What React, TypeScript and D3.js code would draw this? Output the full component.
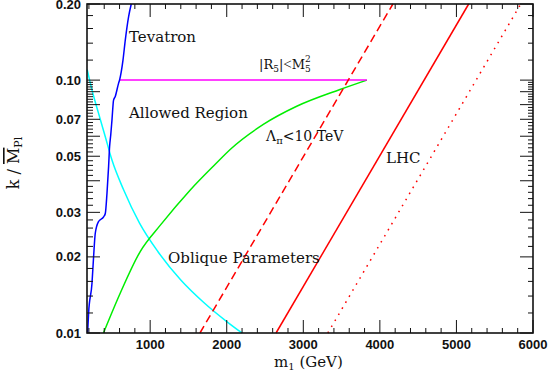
import * as d3 from "d3";

// chart size and frame
const width = 549,
  height = 374;
const margin = { top: 4, right: 16, bottom: 41, left: 87 };

// axis ranges and labelled ticks
const xDomain = [175, 6000];
const yDomain = [0.01, 0.2];
const xMajor = [1000, 2000, 3000, 4000, 5000, 6000];
const yLabels = [0.01, 0.02, 0.03, 0.05, 0.07, 0.1, 0.2];

// curves, [m1 in GeV, k/Mpl]
const tevatron = [
  [183, 0.01], [196, 0.012], [240, 0.0157], [261, 0.02], [283, 0.0248],
  [326, 0.0276], [392, 0.0288], [414, 0.0297], [436, 0.0357], [457, 0.0455],
  [470, 0.0545], [485, 0.0607], [501, 0.0695], [522, 0.0834], [544, 0.0862],
  [587, 0.0971], [600, 0.1], [645, 0.12], [675, 0.144], [718, 0.178], [753, 0.2],
];
const oblique = [
  [178, 0.11], [240, 0.0914], [326, 0.0739], [414, 0.0597], [501, 0.0483],
  [650, 0.037], [861, 0.0272], [1100, 0.021], [1400, 0.0162], [1700, 0.0132],
  [2000, 0.0111], [2200, 0.01],
];
const lambdaPi = [
  [390, 0.01], [610, 0.0144], [870, 0.021], [1133, 0.0267], [1524, 0.0368],
  [1850, 0.0465], [2045, 0.0532], [2478, 0.0668], [2914, 0.0788],
  [3479, 0.0918], [3830, 0.1],
];
const r5Bound = [[600, 0.1], [3830, 0.1]];
const lhcDashed = [[1650, 0.01], [4170, 0.2]];
const lhcSolid = [[2644, 0.01], [5160, 0.2]];
const lhcDotted = [[3320, 0.01], [5840, 0.2]];

const serif = "'DejaVu Serif', serif";
const narrowSerif = "'Liberation Serif', serif";
const sans = "'Liberation Sans', Arial, sans-serif";

export default function App() {
  const x0 = margin.left,
    x1 = width - margin.right,
    y0 = margin.top,
    y1 = height - margin.bottom;

  const x = d3.scaleLinear().domain(xDomain).range([x0, x1]);
  const y = d3.scaleLog().domain(yDomain).range([y1, y0]);

  const line = d3
    .line<number[]>()
    .x((d) => x(d[0]))
    .y((d) => y(d[1]))
    .curve(d3.curveMonotoneX);

  // minor ticks
  const xMinor = d3.range(200, 6001, 200).filter((v) => v >= xDomain[0] && v % 1000 !== 0);
  const yLong = d3.range(1, 11).map((i) => i / 100).concat([0.2]);
  const yMinor = d3
    .range(12, 100, 2)
    .filter((i) => i % 10 !== 0)
    .map((i) => i / 1000)
    .concat([0.12, 0.14, 0.16, 0.18]);

  const fmtY = (v: number) => v.toFixed(2);
  const ink = "#111";

  return (
    <svg
      width={width}
      height={height}
      style={{ position: "absolute", left: 0, top: 0, background: "#fff" }}
    >
      {/* curves */}
      <g fill="none" strokeWidth={1.5}>
        <path d={line(oblique)!} stroke="#00ffff" />
        <path d={line(lambdaPi)!} stroke="#00ee00" />
        <path d={line(r5Bound)!} stroke="#ff00ff" />
        <path d={line(tevatron)!} stroke="#0000ff" />
        <path d={line(lhcDashed)!} stroke="#ff0000" strokeDasharray="8 4.5" />
        <path d={line(lhcSolid)!} stroke="#ff0000" />
        <path d={line(lhcDotted)!} stroke="#ff0000" strokeDasharray="1.6 5.4" />
      </g>

      {/* frame + ticks */}
      <g stroke={ink} strokeWidth={1}>
        {xMajor.map((v) => (
          <g key={"xm" + v}>
            <line x1={x(v)} x2={x(v)} y1={y1} y2={y1 - 13} />
            <line x1={x(v)} x2={x(v)} y1={y0} y2={y0 + 13} />
          </g>
        ))}
        {xMinor.map((v) => (
          <g key={"xn" + v}>
            <line x1={x(v)} x2={x(v)} y1={y1} y2={y1 - 5} />
            <line x1={x(v)} x2={x(v)} y1={y0} y2={y0 + 5} />
          </g>
        ))}
        {yLong.map((v) => (
          <g key={"yl" + v}>
            <line x1={x0} x2={x0 + 13} y1={y(v)} y2={y(v)} />
            <line x1={x1} x2={x1 - 13} y1={y(v)} y2={y(v)} />
          </g>
        ))}
        {yMinor.map((v) => (
          <g key={"yn" + v}>
            <line x1={x0} x2={x0 + 6} y1={y(v)} y2={y(v)} />
            <line x1={x1} x2={x1 - 5} y1={y(v)} y2={y(v)} />
          </g>
        ))}
        <rect x={x0} y={y0} width={x1 - x0} height={y1 - y0} fill="none" strokeWidth={1.6} />
      </g>

      {/* tick labels */}
      <g fontFamily={sans} fontSize={13} fill={ink} fontWeight={600}>
        {xMajor.map((v) => (
          <text key={"xt" + v} x={x(v)} y={y1 + 16} textAnchor="middle">
            {v}
          </text>
        ))}
        {yLabels.map((v) => (
          <text key={"yt" + v} x={x0 - 6} y={y(v) + 4.5} textAnchor="end">
            {fmtY(v)}
          </text>
        ))}
      </g>

      {/* axis titles */}
      <text x={274} y={367} fontFamily={serif} fontSize={15} fill={ink}>
        m<tspan fontSize={10} dy={3}>1</tspan>
        <tspan dy={-3}> (GeV)</tspan>
      </text>
      <text
        transform={`translate(19, 163) rotate(-90)`}
        textAnchor="middle"
        fontFamily={serif}
        fontSize={16}
        fill={ink}
      >
        k / <tspan style={{ textDecoration: "overline" }}>M</tspan>
        <tspan fontSize={11} dy={3}>Pl</tspan>
      </text>

      {/* annotations */}
      <g fontFamily={serif} fontSize={15} fill={ink}>
        <text x={129} y={42}>Tevatron</text>
        <text x={129} y={118}>Allowed Region</text>
        <text x={259} y={69} fontSize={13}>
          |R<tspan fontSize={9} dy={3}>5</tspan>
          <tspan dy={-3}>|</tspan>
          <tspan fontFamily={narrowSerif} fontSize={15}>&lt;</tspan>
          <tspan>M</tspan>
          <tspan fontSize={9} dy={3}>5</tspan>
          <tspan fontSize={9} dx={-5.7} dy={-10}>2</tspan>
        </text>
        <text x={266} y={141} fontSize={14}>
          Λ<tspan fontSize={10} dy={3}>π</tspan>
          <tspan dy={-3}>&lt;10 TeV</tspan>
        </text>
        <text x={168} y={263}>Oblique Parameters</text>
        <text x={386} y={163}>LHC</text>
      </g>
    </svg>
  );
}
